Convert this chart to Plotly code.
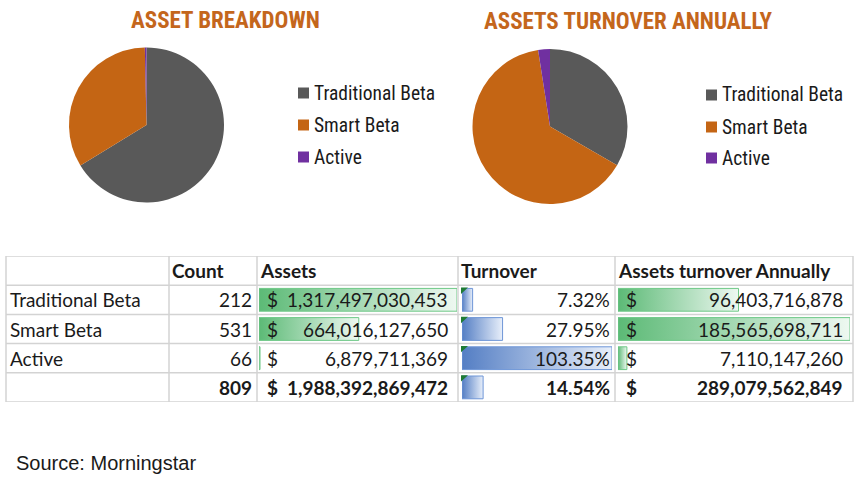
import plotly.graph_objects as go

W, H = 863, 479

# ---------------- data ----------------
categories = ["Traditional Beta", "Smart Beta", "Active"]
counts = [212, 531, 66]
assets = [1317497030453, 664016127650, 6879711369]
turnover = [7.32, 27.95, 103.35]
annual = [96403716878, 185565698711, 7110147260]
total_count = 809
total_assets = 1988392869472
total_turnover = 14.54
total_annual = 289079562849
headers = ["", "Count", "Assets", "Turnover", "Assets turnover Annually"]
pie_titles = ["ASSET BREAKDOWN", "ASSETS TURNOVER ANNUALLY"]
source_text = "Source: Morningstar"

# ---------------- styles ----------------
slice_colors = ["#595959", "#C46514", "#7030A0"]
title_color = "#C4661C"
cond_font = "Roboto Condensed, Roboto, sans-serif"
table_font = "Lato, Open Sans, sans-serif"
text_color = "#1a1a1a"
grid_color = "#D3D3D3"
green_start, green_end, green_line = "rgb(92,186,118)", "rgb(238,248,241)", "rgb(110,200,135)"
blue_start, blue_end, blue_line = "rgb(84,126,196)", "rgb(232,239,250)", "rgb(110,150,215)"


def px(x):
    return x / W


def py(y):
    return 1 - y / H


fig = go.Figure()

# ---------------- pies ----------------
fig.add_trace(go.Pie(
    labels=categories, values=assets, sort=False, direction="clockwise",
    marker=dict(colors=slice_colors, line=dict(width=0)), textinfo="none",
    domain=dict(x=[px(69), px(224)], y=[py(202.5), py(47.5)]), showlegend=False))
fig.add_trace(go.Pie(
    labels=categories, values=annual, sort=False, direction="clockwise",
    marker=dict(colors=slice_colors, line=dict(width=0)), textinfo="none",
    domain=dict(x=[px(472.5), px(627.5)], y=[py(204), py(49)]), showlegend=False))

annotations = []
shapes = []

# titles
for t, cx, cy in zip(pie_titles, [225, 628], [20, 22]):
    annotations.append(dict(text="<b>%s</b>" % t, x=px(cx), y=py(cy), xref="paper", yref="paper",
                            xanchor="center", yanchor="middle", showarrow=False,
                            font=dict(family=cond_font, size=23, color=title_color)))

# legends (manual)
for lx, ys in [(298, [93, 125, 157]), (706, [95, 127, 158])]:
    for lab, col, yy in zip(categories, slice_colors, ys):
        shapes.append(dict(type="rect", xref="paper", yref="paper", x0=px(lx), x1=px(lx + 11),
                           y0=py(yy + 5.5), y1=py(yy - 5.5), fillcolor=col, line=dict(width=0)))
        annotations.append(dict(text=lab, x=px(lx + 14), y=py(yy), xref="paper", yref="paper",
                                xanchor="left", yanchor="middle", showarrow=False,
                                font=dict(family=cond_font, size=19.5, color=text_color)))

# ---------------- table ----------------
col_edges = [6, 169, 257, 458, 615, 853]
n_rows = 5  # header + 3 categories + total

# grid lines
for r in range(n_rows + 1):
    shapes.append(dict(type="line", xref="paper", yref="y", x0=px(col_edges[0]), x1=px(col_edges[-1]),
                       y0=r - 0.5, y1=r - 0.5, line=dict(color=grid_color, width=1.5)))
for ce in col_edges:
    shapes.append(dict(type="line", xref="paper", yref="y", x0=px(ce), x1=px(ce),
                       y0=-0.5, y1=n_rows - 0.5, line=dict(color=grid_color, width=1.5)))


def add_bar(xaxis, value, row, c0, c1, lc):
    y0, y1 = row - 0.39, row + 0.39
    fig.add_trace(go.Scatter(
        x=[0, value, value, 0, 0], y=[y0, y0, y1, y1, y0], xaxis=xaxis, yaxis="y",
        mode="lines", fill="toself",
        fillgradient=dict(type="horizontal", colorscale=[[0, c0], [1, c1]]),
        line=dict(color=lc, width=1), hoverinfo="skip", showlegend=False))


for i, v in enumerate(assets):
    add_bar("x", v, i + 1, green_start, green_end, green_line)
for i, v in enumerate(turnover + [total_turnover]):
    add_bar("x2", v, i + 1, blue_start, blue_end, blue_line)
for i, v in enumerate(annual):
    add_bar("x3", v, i + 1, green_start, green_end, green_line)

# green error triangles in turnover cells
for r in range(1, 5):
    shapes.append(dict(type="path", xref="paper", yref="y",
                       path="M %f,%f L %f,%f L %f,%f Z" % (px(461), r - 0.42, px(468), r - 0.42, px(461), r - 0.2),
                       fillcolor="#1E7B34", line=dict(width=0)))


def txt(s, x, row, anchor, bold=False):
    x = x - 3 if anchor == "left" else x + 2
    annotations.append(dict(text=("<b>%s</b>" % s) if bold else s, x=px(x), y=row, xref="paper", yref="y",
                            xanchor=anchor, yanchor="middle", showarrow=False,
                            font=dict(family=table_font, size=19, color=text_color)))


# headers
for h, ce in zip(headers, col_edges[:-1]):
    if h:
        txt(h, ce + 4, 0, "left", bold=True)

rows_data = list(zip(categories, counts, assets, turnover, annual))
for i, (cat, cnt, a, t, an) in enumerate(rows_data):
    r = i + 1
    txt(cat, 11, r, "left")
    txt("{:,}".format(cnt), 252, r, "right")
    txt("$", 268, r, "left")
    txt("{:,}".format(a), 448, r, "right")
    txt("{:.2f}%".format(t), 610, r, "right")
    txt("$", 627, r, "left")
    txt("{:,}".format(an), 843, r, "right")

r = 4
txt("{:,}".format(total_count), 252, r, "right", True)
txt("$", 268, r, "left", True)
txt("{:,}".format(total_assets), 448, r, "right", True)
txt("{:.2f}%".format(total_turnover), 610, r, "right", True)
txt("$", 627, r, "left", True)
txt("{:,}".format(total_annual), 843, r, "right", True)

# source
annotations.append(dict(text=source_text, x=px(14), y=py(463), xref="paper", yref="paper",
                        xanchor="left", yanchor="middle", showarrow=False,
                        font=dict(family="Liberation Sans, Arial, sans-serif", size=20, color=text_color)))

hidden = dict(visible=False, showgrid=False, zeroline=False, fixedrange=True)
fig.update_layout(
    width=W, height=H, autosize=False,
    margin=dict(l=0, r=0, t=0, b=0, pad=0),
    paper_bgcolor="white", plot_bgcolor="rgba(0,0,0,0)",
    xaxis=dict(hidden, domain=[px(259), px(457)], range=[0, max(assets)], anchor="y"),
    xaxis2=dict(hidden, domain=[px(462), px(612)], range=[0, max(turnover + [total_turnover])], anchor="y"),
    xaxis3=dict(hidden, domain=[px(618), px(850)], range=[0, max(annual)], anchor="y"),
    yaxis=dict(hidden, domain=[py(402), py(256)], range=[n_rows - 0.5, -0.5], anchor="x"),
    shapes=shapes, annotations=annotations, showlegend=False,
)

fig.write_html("out.html")
